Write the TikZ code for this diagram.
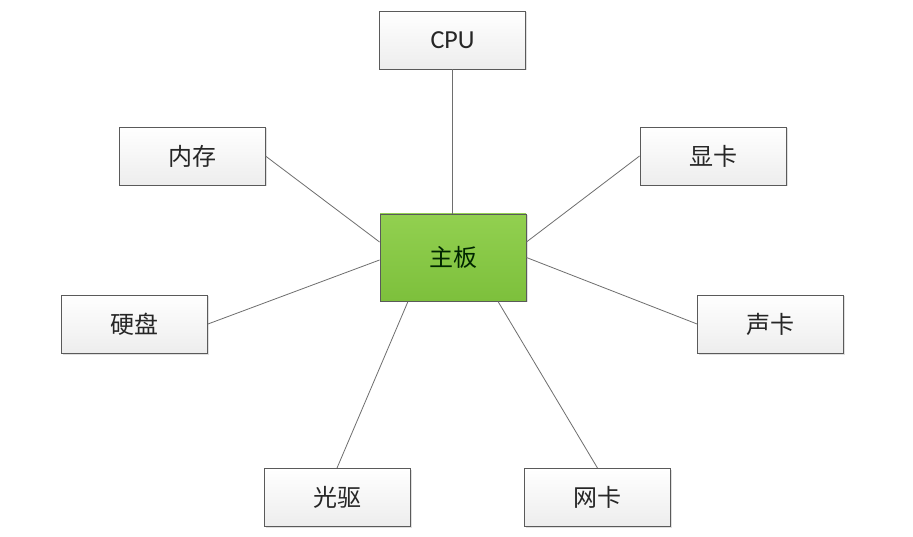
\documentclass[tikz,border=0pt]{standalone}
\usepackage{fontspec}
\newfontfamily\cjk{Noto Sans CJK SC}
\newfontfamily\lat{Carlito}
\usetikzlibrary{calc,shadows}
\definecolor{boxline}{HTML}{5A5A5A}
\definecolor{linkline}{HTML}{6E6E6E}
\definecolor{greentop}{HTML}{92D050}
\definecolor{greenbot}{HTML}{7DC03C}
\definecolor{txt}{HTML}{262626}
\tikzset{
  partbox/.style={draw=boxline, line width=0.9pt, top color=white, bottom color=gray!14,
    minimum width=146pt, minimum height=58pt, inner sep=0pt, text=txt,
    font=\cjk\fontsize{24}{27}\selectfont,
    drop shadow={shadow xshift=1.5pt, shadow yshift=-1.5pt, opacity=0.25, fill=gray}},
  mainbox/.style={partbox, top color=greentop, bottom color=greenbot, minimum height=87pt, text=black!85!green},
  link/.style={draw=linkline, line width=0.8pt}
}
\begin{document}
\begin{tikzpicture}[x=1pt,y=-1pt]
\useasboundingbox[fill=white] (0,0) rectangle (913,537);
\node[partbox, font=\lat\fontsize{26}{29}\selectfont] (cpu) at (452.5,40) {CPU};
\node[partbox] (mem) at (192,156) {内存};
\node[partbox] (gpu) at (713,156) {显卡};
\node[mainbox] (mb) at (453,257.5) {主板};
\node[partbox] (hdd) at (134.5,324) {硬盘};
\node[partbox] (snd) at (770.5,324) {声卡};
\node[partbox] (odd) at (337,497.5) {光驱};
\node[partbox] (nic) at (597.5,497.5) {网卡};
\draw[link] (cpu.south) -- (cpu.south |- mb.north);
\draw[link] (mem.east) -- ($(mb.west)+(0,-15.5)$);
\draw[link] (gpu.west) -- ($(mb.east)+(0,-15.5)$);
\draw[link] (hdd.east) -- ($(mb.west)+(0,2.5)$);
\draw[link] (snd.west) -- (mb.east);
\draw[link] (odd.north) -- ($(mb.south)+(-45,0)$);
\draw[link] (nic.north) -- ($(mb.south)+(45,0)$);
\end{tikzpicture}
\end{document}
